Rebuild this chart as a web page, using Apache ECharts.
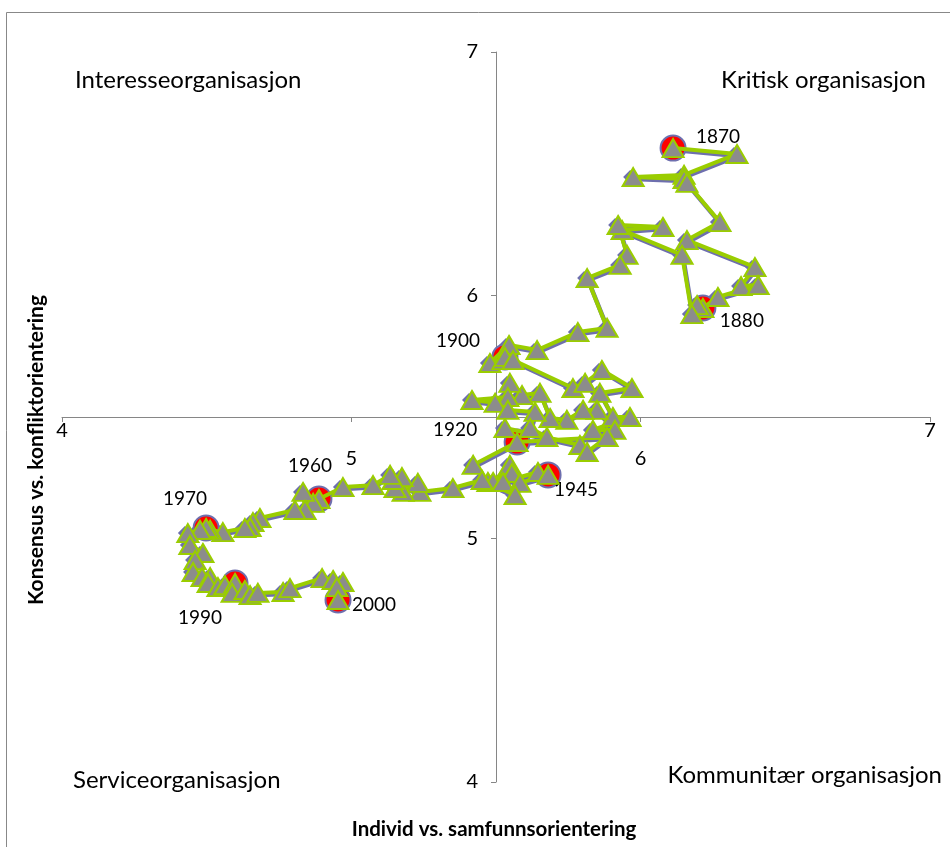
<!DOCTYPE html>
<html>
<head>
<meta charset="utf-8">
<script src="https://cdn.jsdelivr.net/npm/echarts@6/dist/echarts.min.js"></script>
<style>
  html, body { margin: 0; padding: 0; background: #fff; }
  #chart { width: 950px; height: 847px; }
</style>
</head>
<body>
<div id="chart"></div>
<script>
// yearly positions 1870-2000
const pathX = [
    6.112, 6.333, 6.150, 5.974, 6.150, 6.160, 6.274, 6.160, 6.395, 6.347, 6.406, 6.267, 6.215,
    6.195, 6.177, 6.143, 5.936, 6.077, 5.922, 5.953, 5.929, 5.815, 5.884, 5.783, 5.642, 5.545, 5.479, 5.524, 5.531,
    5.559, 5.766, 5.808, 5.866, 5.970, 5.859, 5.904, 5.963, 5.835, 5.911, 5.849, 5.801, 5.745, 5.687, 5.652, 5.590,
    5.548, 5.541, 5.417, 5.497, 5.541, 5.635, 5.618, 5.676, 5.531, 5.790, 5.815, 5.884, 5.573,
    5.421, 5.472, 5.490, 5.548, 5.555, 5.524, 5.645, 5.680,
    5.583, 5.566, 5.452, 5.351, 5.237, 5.230, 5.179, 5.151, 5.175, 5.144, 5.134, 5.075, 4.971, 4.888,
    4.868, 4.833, 4.840, 4.805, 4.684, 4.660, 4.650, 4.632, 4.556, 4.512, 4.498,
    4.477, 4.435, 4.442, 4.487, 4.460, 4.453, 4.484, 4.512, 4.505, 4.539, 4.563, 4.598,
    4.588, 4.632, 4.650, 4.677, 4.764, 4.788, 4.899, 4.937, 4.971, 4.950, 4.954
];
const pathY = [
    6.605, 6.581, 6.495, 6.486, 6.478, 6.462, 6.301, 6.227, 6.116, 6.038, 6.042, 5.993, 5.948,
    5.960, 5.923, 6.166, 6.268, 6.281, 6.289, 6.166, 6.125, 6.071, 5.866, 5.849, 5.775, 5.796, 5.722, 5.734, 5.747,
    5.734, 5.619, 5.640, 5.693, 5.619, 5.599, 5.500, 5.500, 5.447, 5.447, 5.529, 5.529, 5.488, 5.496, 5.599, 5.590,
    5.640, 5.582, 5.570, 5.558, 5.529, 5.521, 5.455, 5.418, 5.455, 5.385, 5.356, 5.418, 5.397,
    5.303, 5.233, 5.233, 5.303, 5.270, 5.233, 5.274, 5.262,
    5.229, 5.179, 5.241, 5.208, 5.192, 5.229, 5.192, 5.208, 5.253, 5.241, 5.262, 5.220, 5.212, 5.163,
    5.147, 5.192, 5.118, 5.118, 5.085, 5.068, 5.048, 5.044, 5.027, 5.036, 5.044,
    5.036, 5.023, 4.974, 4.941, 4.912, 4.863, 4.842, 4.842, 4.818, 4.801, 4.809, 4.818,
    4.777, 4.789, 4.768, 4.777, 4.781, 4.797, 4.838, 4.830, 4.822, 4.801, 4.748
];

const markYears = ["1870", "1880", "1900", "1920", "1945", "1960", "1970", "1990", "2000"];
const markX = [6.112, 6.215, 5.531, 5.573, 5.680, 4.888, 4.498, 4.598, 4.954];
const markY = [6.605, 5.948, 5.747, 5.397, 5.262, 5.163, 5.044, 4.818, 4.748];

const axisTicks = [4, 5, 6, 7];
const xTitle = "Individ vs. samfunnsorientering";
const yTitle = "Konsensus vs. konfliktorientering";
const quadrants = ["Interesseorganisasjon", "Kritisk organisasjon", "Serviceorganisasjon", "Kommunitær organisasjon"];

const FONT = "Lato";
const BLUE = "#6e6fae";
const GREEN = "#9acd00";

// where each year label sits relative to its circle
const labelOffsets = {
    "1870": [45, -11], "1880": [39, 13], "1900": [-47, -16], "1920": [-62, -12],
    "1945": [28, 15], "1960": [-9, -33], "1970": [-21, -29], "1990": [-35, 35], "2000": [36, 5]
};

function buildPath() {
    return pathX.map((x, i) => [x, pathY[i]]);
}

function buildMarks() {
    return markYears.map((year, i) => ({
        value: [markX[i], markY[i]],
        name: year,
        label: { offset: labelOffsets[year] }
    }));
}

function quadrantText(text, x, y, align) {
    return {
        type: "text", x: x, y: y,
        style: { text: text, fontFamily: FONT, fontSize: 24, fill: "#000", align: align, verticalAlign: "middle" }
    };
}

const chart = echarts.init(document.getElementById("chart"), null, { renderer: "canvas" });
const path = buildPath();

chart.setOption({
    backgroundColor: "#fff",
    animation: false,
    // second grid is the same plot nudged a little, used for the blue shadow line
    grid: [
        { left: 62, right: 20, top: 52, bottom: 65 },
        { left: 63, right: 19, top: 54, bottom: 63 }
    ],
    xAxis: [
        {
            type: "value", min: 4, max: 7, interval: 1,
            offset: -365,
            axisLine: { lineStyle: { color: "#868686", width: 1 } },
            axisTick: { length: 5, lineStyle: { color: "#868686" } },
            splitLine: { show: false },
            axisLabel: {
                margin: 4,
                formatter: (v) => (axisTicks.indexOf(v) === 1 || axisTicks.indexOf(v) === 2 ? "{lo|" + v + "}" : "{hi|" + v + "}"),
                rich: {
                    hi: { fontFamily: FONT, fontSize: 20, color: "#000" },
                    lo: { fontFamily: FONT, fontSize: 20, color: "#000", padding: [28, 0, 0, 0] }
                }
            }
        },
        { type: "value", gridIndex: 1, min: 4, max: 7, show: false }
    ],
    yAxis: [
        {
            type: "value", min: 4, max: 7, interval: 1,
            offset: -434,
            axisLine: { lineStyle: { color: "#868686", width: 1 } },
            axisTick: { length: 5, lineStyle: { color: "#868686" } },
            splitLine: { show: false },
            axisLabel: { margin: 18, fontFamily: FONT, fontSize: 20, color: "#000" }
        },
        { type: "value", gridIndex: 1, min: 4, max: 7, show: false }
    ],
    series: [
        {
            type: "line", data: path, z: 2,
            xAxisIndex: 1, yAxisIndex: 1,
            symbol: "diamond", symbolSize: 14, symbolOffset: [-4, -2],
            lineStyle: { color: BLUE, width: 4.5 },
            itemStyle: { color: BLUE, borderWidth: 0 }
        },
        {
            type: "scatter", data: buildMarks(), z: 3,
            symbol: "circle", symbolSize: 25,
            itemStyle: { color: "#ff0000", borderColor: BLUE, borderWidth: 2, opacity: 1 },
            label: {
                show: true, position: "inside",
                formatter: (p) => p.name,
                fontFamily: FONT, fontSize: 19, color: "#000"
            }
        },
        {
            type: "line", data: path, z: 4,
            symbol: "triangle", symbolSize: [21, 18],
            lineStyle: { color: GREEN, width: 4 },
            itemStyle: { color: "#8c8c8c", borderColor: GREEN, borderWidth: 2 }
        }
    ],
    graphic: [
        {
            type: "rect", left: 4, top: 10, silent: true,
            shape: { width: 960, height: 850 },
            style: { fill: "none", stroke: "#888", lineWidth: 1 }
        },
        quadrantText(quadrants[0], 75, 80, "left"),
        quadrantText(quadrants[1], 926, 80, "right"),
        quadrantText(quadrants[2], 73, 780, "left"),
        quadrantText(quadrants[3], 942, 775, "right"),
        {
            type: "text", x: 494, y: 829,
            style: { text: xTitle, fontFamily: FONT, fontSize: 20.5, fontWeight: "bold", fill: "#000", align: "center", verticalAlign: "middle" }
        },
        {
            type: "text", x: 36, y: 450, rotation: Math.PI / 2,
            style: { text: yTitle, fontFamily: FONT, fontSize: 21, fontWeight: "bold", fill: "#000", align: "center", verticalAlign: "middle" }
        }
    ]
});
</script>
</body>
</html>
